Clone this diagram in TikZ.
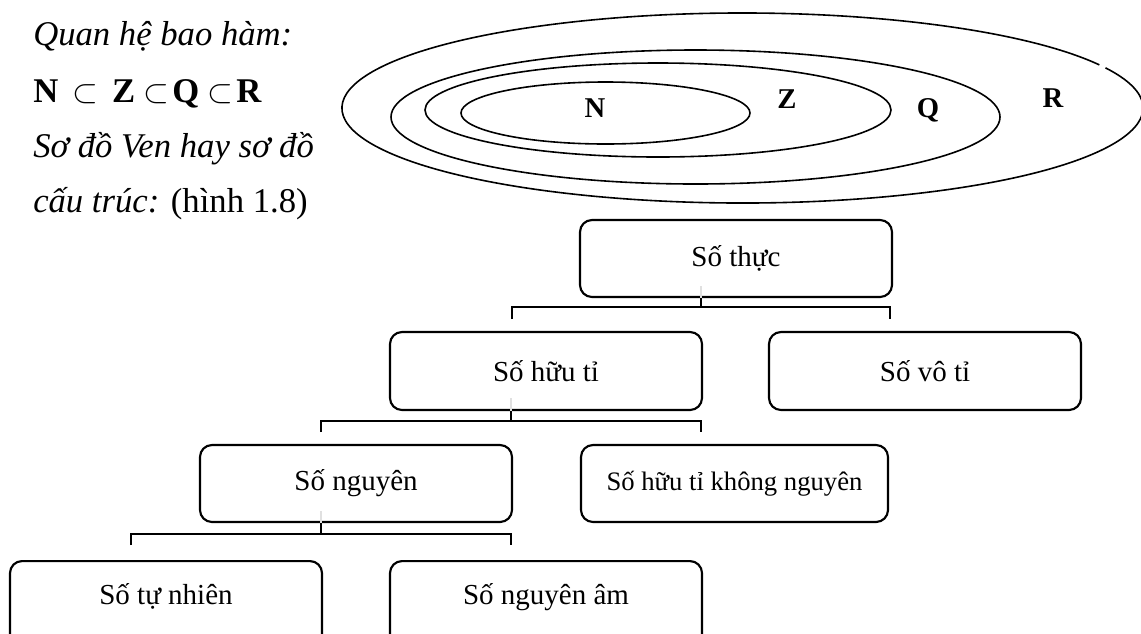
\documentclass[tikz,border=0pt]{standalone}
\usepackage{fontspec}
\setmainfont{Liberation Serif}
\newcommand{\bxfont}{\fontsize{21.75}{26}\selectfont}
\newcommand{\bxsmallfont}{\fontsize{20}{24}\selectfont}
\newcommand{\ntfont}{\fontsize{26}{31}\selectfont}
\newcommand{\stfont}{\fontsize{21.5}{25}\selectfont\bfseries}
\begin{document}
\begin{tikzpicture}[x=0.75pt,y=-0.75pt,
  box/.style={draw, line width=1.6pt, rounded corners=9pt,
    minimum width=234pt, minimum height=57.75pt, inner sep=0pt, font=\bxfont},
  lowbox/.style={box, anchor=north, minimum height=67.5pt,
    text height=28.5pt, text depth=31.5pt},
  link/.style={line width=1.6pt},
  ghost/.style={line width=1.4pt, draw=black!12},
  ring/.style={line width=1.2pt},
  setlabel/.style={font=\stfont, inner sep=0pt},
  note/.style={anchor=base west, inner sep=0pt, font=\ntfont}]
\useasboundingbox (0,0) rectangle (1141,633);
\clip (0,0) rectangle (1141,633);

% --- text at the upper left ---
\node[note] (l1) at (33,45)  {\textit{Quan hệ bao hàm:}};
\node[note] (l2) at (33,102) {\textbf{N}\hspace{4pt} $\subset$\hspace{4pt} \textbf{Z} $\subset$\hspace{2pt}\textbf{Q} $\subset$\hspace{2pt}\textbf{R}};
\node[note] (l3) at (33,157) {\textit{Sơ đồ Ven hay sơ đồ}};
\node[note] (l4) at (33,212) {\textit{cấu trúc:} (hình 1.8)};

% --- nested sets ---
\draw[ring] ([shift={(742.5,108)}]-25:400.5 and 95)
  arc[start angle=-25, end angle=333, x radius=400.5, y radius=95];
\draw[ring] (695.5,117) ellipse[x radius=304.5, y radius=67];
\draw[ring] (658,110) ellipse[x radius=233, y radius=47];
\draw[ring] (605.5,113) ellipse[x radius=144.5, y radius=31];
\node[setlabel] (sN) at (595,108)  {N};
\node[setlabel] (sZ) at (787,99)   {Z};
\node[setlabel] (sQ) at (928,110)  {Q};
\node[setlabel] (sR) at (1053,98)  {R};

% --- classification tree ---
\node[box] (thuc)    at (736,258.5) {Số thực};
\node[box, minimum height=58.5pt] (huuti) at (546,371) {Số hữu tỉ};
\node[box, minimum height=58.5pt] (voti)  at (925,371) {Số vô tỉ};
\node[box] (nguyen)  at (356,483.5) {Số nguyên};
\node[box, minimum width=230.25pt, font=\bxsmallfont] (khong) at (734.5,483.5) {Số hữu tỉ không nguyên};
\node[lowbox] (tunhien) at (166,560) {Số tự nhiên};
\node[lowbox] (am)      at (546,560) {Số nguyên âm};

% branch points and free ends of the brackets
\coordinate (b1) at (701,307);
\coordinate (b1l) at (512,319);
\coordinate (b1r) at (890,319);
\coordinate (b2) at (511,421);
\coordinate (b2l) at (321,432);
\coordinate (b2r) at (701,432);
\coordinate (b3) at (321,534);
\coordinate (b3l) at (131,545);
\coordinate (b3r) at (511,545);

% faint stubs inside the boxes
\draw[ghost] (b1 |- thuc.south) -- ++(0,-12);
\draw[ghost] (b2 |- huuti.south) -- ++(0,-13);
\draw[ghost] (b3 |- nguyen.south) -- ++(0,-12);

\draw[link] (b1 |- thuc.south) -- (b1);
\draw[link] (b1l) -- (b1l |- b1) -- (b1r |- b1) -- (b1r);
\draw[link] (b2 |- huuti.south) -- (b2);
\draw[link] (b2l) -- (b2l |- b2) -- (b2r |- b2) -- (b2r);
\draw[link] (b3 |- nguyen.south) -- (b3);
\draw[link] (b3l) -- (b3l |- b3) -- (b3r |- b3) -- (b3r);
\end{tikzpicture}
\end{document}
